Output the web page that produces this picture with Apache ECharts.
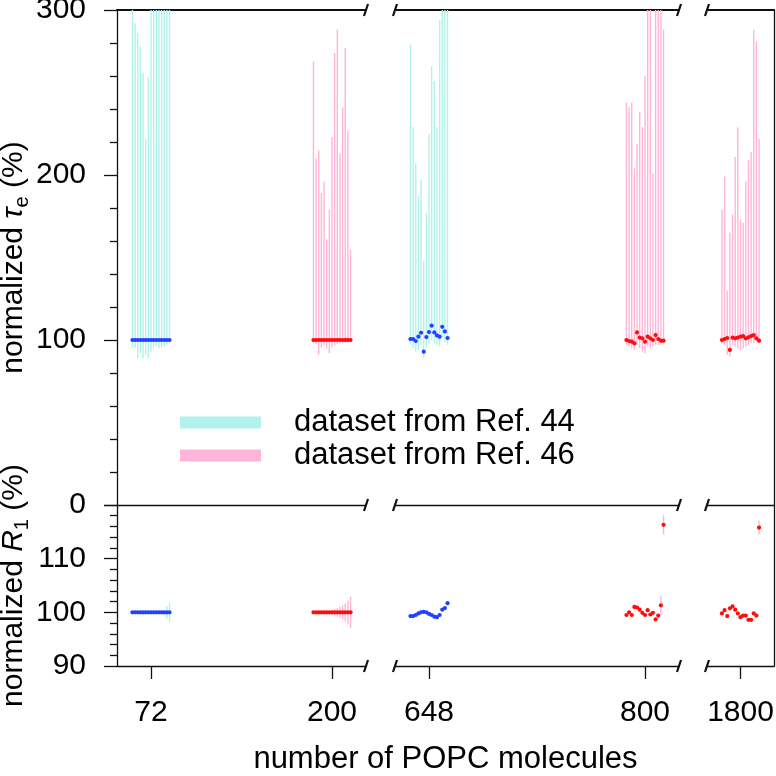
<!DOCTYPE html>
<html><head><meta charset="utf-8">
<script src="https://cdn.jsdelivr.net/npm/echarts@6/dist/echarts.min.js"></script>
<style>html,body{margin:0;padding:0;background:#fff}#c{width:776px;height:776px}</style>
</head><body><div id="c"></div>
<script>
// ---------------- data ----------------
// x-axis categories per axis segment (broken axis)
const seg1Categories = ['72', '200'];
const seg2Categories = ['648', '800'];
const seg3Categories = ['1800'];

// y-axis ticks
const tauTicks = [0, 100, 200, 300];
const r1Ticks = [90, 100, 110, 120];

// normalized tau_e (%) : value, lower and upper end of the error bar
const tau72    = [100,100,100,100,100,100,100,100,100,100,100,100,100,100,100];
const tau72Lo  = [95, 95, 89, 92, 88.5, 91, 89, 93, 95, 96, 95, 95, 96, 97, 98];
const tau72Hi  = [330, 292, 286, 278, 262, 222, 259, 320, 340, 350, 330, 360, 340, 320, 350];

const tau200   = [100,100,100,100,100,100,100,100,100,100,100,100,100,100,100];
const tau200Lo = [98, 97.5, 91, 95.5, 96.5, 95, 92, 95.5, 96.5, 97.5, 98, 98, 98.5, 98.5, 99];
const tau200Hi = [269, 210, 215, 189, 196, 161, 179, 223, 274, 288, 213, 241, 277, 227, 155];

const tau648   = [100.6, 100.6, 99.4, 102, 104.4, 92.9, 101.8, 104.8, 108.7, 104.6, 102.8, 102, 108, 105.2, 101.2];
const tau648Lo = [97, 95, 93, 94, 97, 89, 95, 98, 100, 98, 97, 96, 101, 99, 97];
const tau648Hi = [279, 229, 207, 187, 197, 148, 177, 225, 266, 257, 229, 294, 330, 340, 320];

const tau800   = [100, 99.4, 99, 98, 104.6, 101.5, 101, 99, 102, 101, 100, 103, 100.6, 99.6, 99.6];
const tau800Lo = [97, 96, 95, 94, 97, 95, 93, 92, 96, 95, 96, 97, 97, 98, 98];
const tau800Hi = [244, 241, 244, 204, 219, 238, 229, 260, 330, 340, 201, 350, 340, 320, 288];

const tau1800   = [100, 100.6, 101.2, 94, 101.4, 101, 101.5, 102, 102.4, 101, 101.6, 102.4, 103, 101, 99.6];
const tau1800Lo = [98, 97, 91, 90, 97, 96, 95, 94, 95, 96, 97, 98, 98, 99, 98];
const tau1800Hi = [179, 199, 130, 165, 176, 211, 229, 173, 171, 196, 209, 214, 288, 281, 222];

// normalized R1 (%) : value and half-width of the error bar
const r1_72     = [100,100,100,100,100,100,100,100,100,100,100,100,100,100,100];
const r1_72Err  = [0.2,0.2,0.2,0.2,0.2,0.2,0.2,0.2,0.2,0.2,0.2,0.3,0.4,1.2,1.8];
const r1_200    = [100,100,100,100,100,100,100,100,100,100,100,100,100,100,100];
const r1_200Err = [0.2,0.2,0.2,0.2,0.2,0.3,0.3,0.4,0.6,0.8,1.0,1.3,1.7,2.2,2.9];
const r1_648    = [99.3, 99.3, 99.5, 99.8, 100.0, 100.1, 100.0, 99.7, 99.5, 99.2, 99.1, 99.5, 100.5, 100.8, 101.7];
const r1_648Err = [0.2,0.2,0.2,0.2,0.2,0.2,0.2,0.2,0.2,0.2,0.2,0.2,0.2,0.3,0.3];
const r1_800    = [99.5, 100.0, 99.5, 101.0, 100.9, 100.5, 99.9, 99.5, 100.4, 99.6, 99.9, 98.7, 99.4, 101.3, 116.3];
const r1_800Err = [0.2,0.2,0.2,0.2,0.2,0.2,0.2,0.2,0.2,0.2,0.2,0.3,0.3,1.8,1.8];
const r1_1800   = [99.8, 100.4, 99.3, 100.75, 101.1, 100.5, 99.8, 99.1, 99.4, 99.4, 98.6, 98.6, 99.8, 99.4, 115.8];
const r1_1800Err= [0.2,0.2,0.2,0.2,0.2,0.2,0.2,0.2,0.2,0.2,0.2,0.2,0.2,0.2,1.3];

const legendNames = ['dataset from Ref. 44', 'dataset from Ref. 46'];

// ---------------- layout / style ----------------
const FONT = "'Liberation Sans', Arial, Helvetica, sans-serif";
const FS = 30;
const segments = [
  { x0: 117, x1: 366, cats: seg1Categories },
  { x0: 395, x1: 679, cats: seg2Categories },
  { x0: 707, x1: 774, cats: seg3Categories }
];
const CAT_MARGIN = 34;
const Y_TOP = 10, Y_MID = 505, Y_BOT = 666;
const SPACING = 2.65;
const COLORS = {
  '44': { point: '#2241ff', bar: '#b2f2ec' },
  '46': { point: '#ff0c0c', bar: '#ffb5d8' }
};
const AXIS_COLOR = '#111';

const groups = [
  { seg: 0, k: 0, ds: '44', tau: tau72,   lo: tau72Lo,   hi: tau72Hi,   r1: r1_72,   r1e: r1_72Err },
  { seg: 0, k: 1, ds: '46', tau: tau200,  lo: tau200Lo,  hi: tau200Hi,  r1: r1_200,  r1e: r1_200Err },
  { seg: 1, k: 0, ds: '44', tau: tau648,  lo: tau648Lo,  hi: tau648Hi,  r1: r1_648,  r1e: r1_648Err },
  { seg: 1, k: 1, ds: '46', tau: tau800,  lo: tau800Lo,  hi: tau800Hi,  r1: r1_800,  r1e: r1_800Err },
  { seg: 2, k: 0, ds: '46', tau: tau1800, lo: tau1800Lo, hi: tau1800Hi, r1: r1_1800, r1e: r1_1800Err }
];

function xRange(seg) {
  const n = seg.cats.length, W = seg.x1 - seg.x0;
  if (n === 1) return { min: -0.5, max: 0.5 };
  const u = (W - 2 * CAT_MARGIN) / (n - 1);
  return { min: -CAT_MARGIN / u, max: n - 1 + CAT_MARGIN / u };
}

const grid = [], xAxis = [], yAxis = [], series = [];
const line = (w) => ({ show: true, onZero: false, lineStyle: { color: AXIS_COLOR, width: w || 1.3 } });
const noLine = { show: false, onZero: false };

// grids 0..2 : top panel ; 3..5 : bottom panel
segments.forEach((s) => {
  grid.push({ left: s.x0, width: s.x1 - s.x0, top: Y_TOP, height: Y_MID - Y_TOP, outerBoundsMode: 'none', containLabel: false });
});
segments.forEach((s) => {
  grid.push({ left: s.x0, width: s.x1 - s.x0, top: Y_MID, height: Y_BOT - Y_MID, outerBoundsMode: 'none', containLabel: false });
});

// x axes
segments.forEach((s, i) => { // top panel: top border line
  const r = xRange(s);
  xAxis.push({ gridIndex: i, type: 'value', min: r.min, max: r.max, position: 'top',
    axisLine: line(2), axisTick: { show: false }, axisLabel: { show: false }, splitLine: { show: false } });
});
segments.forEach((s, i) => { // bottom panel: category axis with labels
  const r = xRange(s);
  const vals = s.cats.map((c, k) => k);
  xAxis.push({ gridIndex: 3 + i, type: 'value', min: r.min, max: r.max, position: 'bottom',
    axisLine: line(1.3),
    axisTick: { show: true, inside: false, length: 13, customValues: vals, lineStyle: { color: AXIS_COLOR, width: 1.3 } },
    axisLabel: { show: true, customValues: vals, margin: 32, fontSize: FS, fontFamily: FONT, color: '#000',
      formatter: (v) => s.cats[Math.round(v)] },
    splitLine: { show: false } });
});
segments.forEach((s, i) => { // bottom panel: separator line on top
  const r = xRange(s);
  xAxis.push({ gridIndex: 3 + i, type: 'value', min: r.min, max: r.max, position: 'top',
    axisLine: line(1.3), axisTick: { show: false }, axisLabel: { show: false }, splitLine: { show: false } });
});

// y axes
const nameRich = {
  it: { fontStyle: 'italic', fontSize: FS, fontFamily: FONT, color: '#000', lineHeight: 36 },
  sub: { fontSize: 20, fontFamily: FONT, color: '#000', lineHeight: 20, verticalAlign: 'bottom' }
};
segments.forEach((s, i) => {
  if (i === 0) {
    yAxis.push({ gridIndex: 0, type: 'value', min: tauTicks[0], max: tauTicks[tauTicks.length - 1], interval: 100, position: 'left',
      axisLine: line(1.3),
      axisTick: { show: true, inside: false, length: 13, lineStyle: { color: AXIS_COLOR, width: 1.3 } },
      minorTick: { show: true, splitNumber: 5, length: 7, lineStyle: { color: AXIS_COLOR, width: 1.3 } },
      axisLabel: { fontSize: FS, fontFamily: FONT, color: '#000', margin: 31 },
      splitLine: { show: false }, minorSplitLine: { show: false },
      name: 'normalized {it|τ}{sub|e} (%)', nameLocation: 'middle', nameRotate: 90, nameGap: 79,
      nameTextStyle: { fontSize: FS, fontFamily: FONT, color: '#000', lineHeight: 36, rich: nameRich } });
  } else {
    yAxis.push({ gridIndex: i, type: 'value', min: 0, max: 300, position: i === 2 ? 'right' : 'left',
      axisLine: i === 2 ? line(1.3) : noLine, axisTick: { show: false }, axisLabel: { show: false }, splitLine: { show: false } });
  }
});
segments.forEach((s, i) => {
  if (i === 0) {
    yAxis.push({ gridIndex: 3, type: 'value', min: r1Ticks[0], max: r1Ticks[r1Ticks.length - 1], interval: 10, position: 'left',
      axisLine: line(1.3),
      axisTick: { show: true, inside: false, length: 13, lineStyle: { color: AXIS_COLOR, width: 1.3 } },
      minorTick: { show: true, splitNumber: 5, length: 7, lineStyle: { color: AXIS_COLOR, width: 1.3 } },
      axisLabel: { fontSize: FS, fontFamily: FONT, color: '#000', margin: 31, showMaxLabel: false },
      splitLine: { show: false }, minorSplitLine: { show: false },
      name: 'normalized {it|R}{sub|1} (%)', nameLocation: 'middle', nameRotate: 90, nameGap: 79,
      nameTextStyle: { fontSize: FS, fontFamily: FONT, color: '#000', lineHeight: 36, rich: nameRich } });
  } else {
    yAxis.push({ gridIndex: 3 + i, type: 'value', min: 90, max: 120, position: i === 2 ? 'right' : 'left',
      axisLine: i === 2 ? line(1.3) : noLine, axisTick: { show: false }, axisLabel: { show: false }, splitLine: { show: false } });
  }
});

// series
function makeBar(color, n) {
  return function (params, api) {
    const x = api.value(0), lo = api.value(2), hi = api.value(3), i = api.value(4);
    const dx = (i - (n - 1) / 2) * SPACING;
    const a = api.coord([x, lo]), b = api.coord([x, hi]);
    return { type: 'line', shape: { x1: a[0] + dx, y1: a[1], x2: b[0] + dx, y2: b[1] },
      style: { stroke: color, lineWidth: 1.4 } };
  };
}
function makePoint(color, n) {
  return function (params, api) {
    const x = api.value(0), v = api.value(1), i = api.value(4);
    const dx = (i - (n - 1) / 2) * SPACING;
    const p = api.coord([x, v]);
    return { type: 'circle', shape: { cx: p[0] + dx, cy: p[1], r: 2.1 }, style: { fill: color } };
  };
}
groups.forEach((g) => {
  const name = g.ds === '44' ? legendNames[0] : legendNames[1];
  const c = COLORS[g.ds];
  const n = g.tau.length;
  const tauData = g.tau.map((v, i) => [g.k, v, g.lo[i], g.hi[i], i]);
  const r1Data = g.r1.map((v, i) => [g.k, v, v - g.r1e[i], v + g.r1e[i], i]);
  [[g.seg, tauData], [3 + g.seg, r1Data]].forEach(([gi, data]) => {
    series.push({ type: 'custom', name, xAxisIndex: gi, yAxisIndex: gi, clip: true, z: 2,
      renderItem: makeBar(c.bar, n), data, encode: { x: 0, y: [1, 2, 3] }, itemStyle: { color: c.bar } });
    series.push({ type: 'custom', name, xAxisIndex: gi, yAxisIndex: gi, clip: true, z: 3,
      renderItem: makePoint(c.point, n), data, encode: { x: 0, y: [1, 2, 3] }, itemStyle: { color: c.bar } });
  });
});

// break marks on the three horizontal lines
const graphic = [];
const breakXs = [segments[0].x1, segments[1].x0, segments[1].x1, segments[2].x0];
[Y_TOP, Y_MID, Y_BOT].forEach((y) => {
  breakXs.forEach((x) => {
    graphic.push({ type: 'line', shape: { x1: x - 2, y1: y + 6, x2: x + 2, y2: y - 6 },
      style: { stroke: AXIS_COLOR, lineWidth: 2.2 }, z: 10 });
  });
});
graphic.push({ type: 'text', x: (segments[0].x0 + segments[2].x1) / 2, y: 759,
  style: { text: 'number of POPC molecules', fontSize: 31, fontFamily: FONT, fill: '#000', align: 'center', verticalAlign: 'middle' } });

const chart = echarts.init(document.getElementById('c'), null, { renderer: 'canvas' });
chart.setOption({
  animation: false,
  backgroundColor: '#fff',
  grid, xAxis, yAxis, series, graphic,
  legend: {
    selectedMode: false, orient: 'vertical', left: 180, top: 406, padding: 0,
    itemWidth: 81, itemHeight: 12, itemGap: 0,
    textStyle: { fontSize: 31, fontFamily: FONT, color: '#000', lineHeight: 33, padding: [0, 0, 0, 28] },
    data: [
      { name: legendNames[0], icon: 'rect', itemStyle: { color: COLORS['44'].bar } },
      { name: legendNames[1], icon: 'rect', itemStyle: { color: COLORS['46'].bar } }
    ]
  }
});
</script>
</body></html>
